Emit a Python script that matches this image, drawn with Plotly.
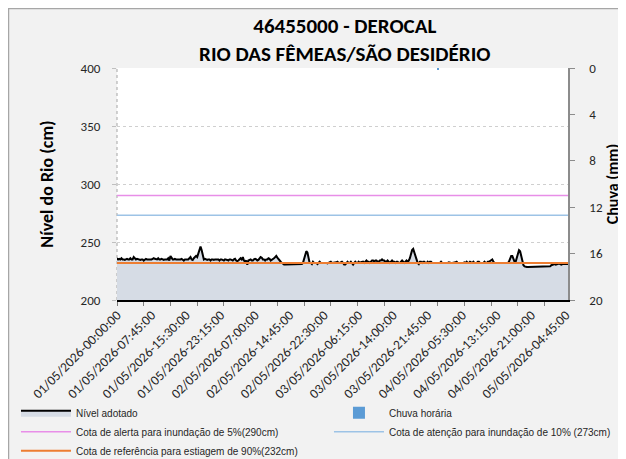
import plotly.graph_objects as go

# 15-minute river level readings (cm), 01/05/2026 00:00 onward
nivel = [
    236, 235, 235.5, 235, 236, 235, 235, 234.5, 235, 235.5, 235, 235, 236, 235, 235, 237, 236, 235, 235.5, 235,
    235, 234.5, 235, 235, 234, 235, 235.5, 235, 235, 234.5, 235, 235, 235.5, 236, 235.5, 235, 235, 236, 235, 235,
    235.5, 235, 234.5, 235, 235, 235, 236, 234, 238, 236, 235, 235, 235.5, 235, 235, 234.5, 235, 235, 235.5, 235,
    234, 235, 235, 235.5, 235, 236, 237, 235, 234.5, 236, 237, 238, 237, 240, 244, 246, 243, 238, 235, 235.5,
    235, 234.5, 235, 235, 234, 235, 235, 234.5, 235, 235, 235.5, 235, 234, 235, 235, 234.5, 234, 235, 235, 234.5,
    234, 235, 235, 234.5, 234, 235, 235.5, 234, 233.5, 234, 235, 236, 235, 237, 234, 233, 234, 230.5, 234, 234.5,
    235, 234, 234, 235, 235.5, 235, 234, 234.5, 236, 237, 236.5, 235, 235, 234, 235, 235, 236, 235.5, 234, 234.5,
    235, 236, 237, 238, 236.5, 235, 234, 233, 232, 231, 230.5, 230.5, 230.5, 230.5, 230.5, 230.5, 230.5, 230.5, 230.5, 230.5,
    230.5, 230.5, 230.5, 230.5, 230.5, 230.5, 231, 232, 236, 240, 242, 241, 236, 232, 232, 231, 233, 232, 232, 232,
    231, 232, 233, 232, 232, 232, 232.5, 232, 232, 231.5, 232, 232, 233, 232, 232, 232, 232, 232.5, 233, 232,
    232, 232.5, 233, 232, 230.5, 230.5, 232, 233, 232, 232, 233, 232, 230.5, 232, 233, 232, 232, 233, 232, 232.5,
    233, 233, 232, 233, 234, 233, 233, 232, 233, 234, 234, 233, 234, 234, 233, 233, 234, 234, 235, 234,
    234, 233, 233, 234, 233, 232, 233, 234, 233, 233, 232, 233, 233, 232, 232, 233, 234, 233, 232, 233,
    234, 233, 234, 236, 240, 243, 244, 241, 236, 233, 232, 231, 233, 233, 232, 233, 233, 232, 232, 233,
    232, 233, 233, 232, 232, 232, 232, 232, 232, 232, 232, 233, 232, 232, 232, 232, 231.5, 232, 232.5, 232,
    232, 232, 232, 232, 232.5, 233, 232, 232, 232, 231.5, 232, 232, 232.5, 232, 233, 232, 232, 233, 232.5, 232,
    233, 232, 232, 232, 233, 233, 232, 232, 232, 232, 233, 232, 232, 233, 233, 233.5, 234, 235, 233, 232,
    232, 232, 232, 232, 232, 232, 232, 232, 232, 232, 232, 232, 233, 235, 238, 238, 235, 233, 233, 237,
    241, 243, 242, 237, 232, 230, 229, 228.5, 228.5, 228.5, 228.5, 228.5, 228.5, 228.5, 228.5, 228.5, 228.5, 228.5, 228.5, 228.5,
    228.5, 228.5, 228.5, 228.5, 228.5, 228.5, 228.5, 228.5, 229, 229, 230, 230.5, 231, 231, 230.5, 231, 231, 231.5, 231, 230.5,
    231, 231, 231, 230.5, 231, 231,
]

# hourly rain (mm): only non-zero readings
chuva_idx = [288]
chuva_mm = [0.2]

cota_alerta = 290
cota_atencao = 273
cota_referencia = 232

tick_idx = [0, 31, 62, 93, 124, 155, 186, 217, 248, 279, 310, 341, 372, 403]
tick_labels = [
    "01/05/2026-00:00:00", "01/05/2026-07:45:00", "01/05/2026-15:30:00", "01/05/2026-23:15:00",
    "02/05/2026-07:00:00", "02/05/2026-14:45:00", "02/05/2026-22:30:00", "03/05/2026-06:15:00",
    "03/05/2026-14:00:00", "03/05/2026-21:45:00", "04/05/2026-05:30:00", "04/05/2026-13:15:00",
    "04/05/2026-21:00:00", "05/05/2026-04:45:00",
]

x = list(range(len(nivel)))
x_end = [0, len(nivel) - 1]

fig = go.Figure()
fig.add_trace(go.Scatter(
    x=x, y=nivel, mode="lines", name="Nível adotado", legend="legend", legendgroup="a",
    line=dict(color="black", width=2), fill="tozeroy", fillcolor="#d6dce5",
))
fig.add_trace(go.Bar(
    x=chuva_idx, y=chuva_mm, name="Chuva horária", yaxis="y2", legend="legend2", legendgroup="d",
    marker=dict(color="#5b9bd5", line=dict(width=0)), width=2,
))
fig.add_trace(go.Scatter(
    x=x_end, y=[cota_alerta] * 2, mode="lines", name="Cota de alerta para inundação de 5%(290cm)",
    legend="legend", legendgroup="b", line=dict(color="#e88ee8", width=1.5),
))
fig.add_trace(go.Scatter(
    x=x_end, y=[cota_atencao] * 2, mode="lines", name="Cota de atenção para inundação de 10% (273cm)",
    legend="legend2", legendgroup="e", line=dict(color="#9dc3e6", width=1.5),
))
fig.add_trace(go.Scatter(
    x=x_end, y=[cota_referencia] * 2, mode="lines", name="Cota de referência para estiagem de 90%(232cm)",
    legend="legend", legendgroup="c", line=dict(color="#ed7d31", width=2),
))

font_main = "Calibri, Lato, 'Open Sans', sans-serif"
font_leg = "'Liberation Sans Narrow', 'Liberation Sans', Arial, sans-serif"

legend_style = dict(
    orientation="v", yanchor="top", xanchor="left", y=-0.424,
    traceorder="normal", tracegroupgap=5.5, itemwidth=50,
    font=dict(family=font_leg, size=10, color="#262626"),
    bgcolor="rgba(0,0,0,0)",
)

fig.update_layout(
    width=626, height=459,
    margin=dict(l=109, r=66, t=60, b=167, autoexpand=False),
    paper_bgcolor="white", plot_bgcolor="white",
    font=dict(family=font_main, color="#262626", size=12),
    title=dict(
        text="<b>46455000 - DEROCAL<br>RIO DAS FÊMEAS/SÃO DESIDÉRIO</b>",
        x=0.538, xanchor="center", y=0.945, yanchor="top",
        font=dict(size=21, color="black", family=font_main),
    ),
    showlegend=True,
    legend=dict(legend_style, x=-0.224),
    legend2=dict(legend_style, x=0.470),
    bargap=0,
    shapes=[
        dict(type="rect", xref="paper", yref="paper", x0=-0.2406, x1=1.2, y0=-0.75, y1=1.2565,
             line=dict(color="#a6a6a6", width=1.5), fillcolor="#f2f2f2", layer="below"),
        dict(type="rect", xref="paper", yref="paper", x0=0, x1=1, y0=0, y1=1,
             line=dict(width=0), fillcolor="white", layer="below"),
        dict(type="line", xref="paper", yref="paper", x0=0, x1=0, y0=0, y1=1,
             line=dict(color="#a6a6a6", width=1, dash="dot"), layer="below"),
    ],
)

fig.update_xaxes(
    range=[0, len(nivel) - 1], tickmode="array", tickvals=tick_idx, ticktext=tick_labels,
    tickangle=-45, tickfont=dict(size=13.5, color="#262626"), ticks="", automargin=False,
    showline=True, linecolor="black", linewidth=2, showgrid=False, zeroline=False,
    minor=dict(ticks="outside", tick0=0, dtick=24, ticklen=4, tickcolor="#7f7f7f", showgrid=False),
)
fig.update_yaxes(
    range=[200, 400], tickvals=[200, 250, 300, 350, 400], ticks="outside", ticklen=4,
    tickcolor="#bfbfbf", showgrid=True, gridcolor="#cfcfcf", griddash="dot", gridwidth=1,
    zeroline=False, showline=False, tickfont=dict(size=13), automargin=False, ticklabelstandoff=9,
    title=dict(text="<b>Nível do Rio (cm)</b>", font=dict(size=18, color="black"), standoff=22),
)
fig.update_layout(yaxis2=dict(
    overlaying="y", side="right", range=[20, 0], tickvals=[0, 4, 8, 12, 16, 20],
    ticks="outside", ticklen=5, tickcolor="#8c8c8c", showline=True, linecolor="#8c8c8c", linewidth=1.5,
    showgrid=False, zeroline=False, tickfont=dict(size=13), automargin=False, ticklabelstandoff=12,
    title=dict(text="<b>Chuva (mm)</b>", font=dict(size=16, color="black"), standoff=3),
))

fig.write_html("out.html")
